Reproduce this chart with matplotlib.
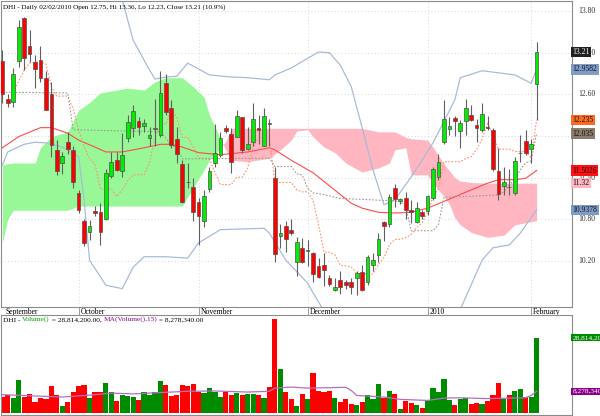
import numpy as np
import matplotlib
matplotlib.use('Agg')
import matplotlib.pyplot as plt

plt.rcParams['font.family'] = ['Liberation Serif', 'DejaVu Serif']

# --- DHI daily candles, 11 Sep 2009 .. 2 Feb 2010 ---
OPEN = [13.08, 12.53, 12.49, 13.08, 13.70, 13.29, 13.06, 13.10, 12.83, 12.61,
        11.80, 11.61, 11.92, 11.80, 11.18, 10.77, 10.61, 10.92, 10.91, 10.80,
        11.43, 11.65, 11.49, 11.97, 12.11, 12.21, 12.14, 11.97, 12.10, 12.01,
        12.76, 12.40, 11.95, 11.60, 11.34, 11.26, 11.05, 10.77, 11.23, 11.61,
        11.73, 12.11, 12.03, 11.99, 12.27, 11.81, 11.92, 12.11, 11.86, 12.19,
        11.40, 10.56, 10.71, 10.64, 10.19, 10.38, 10.34, 10.31, 10.12, 10.14,
        9.96, 9.78, 9.93, 9.90, 9.89, 9.95, 10.04, 9.90, 10.14, 10.29,
        10.76, 10.73, 11.25, 11.06, 11.11, 10.94, 10.76, 10.90, 10.92, 11.11,
        11.41, 11.92, 12.10, 12.26, 12.07, 12.22, 12.30, 12.16, 12.08, 12.13,
        12.09, 11.49, 11.28, 11.27, 11.18, 11.75, 11.93, 11.81, 12.75]
HIGH = [13.24, 12.60, 12.98, 13.67, 13.71, 13.53, 13.17, 13.29, 12.93, 12.78,
        11.94, 11.77, 12.06, 11.85, 11.22, 10.81, 10.79, 10.99, 11.03, 11.53,
        11.77, 11.77, 12.04, 12.30, 12.45, 12.28, 12.25, 12.13, 12.54, 12.93,
        12.90, 12.52, 12.13, 11.66, 11.61, 11.39, 11.10, 11.22, 11.56, 12.17,
        12.06, 12.16, 12.11, 12.38, 12.28, 12.13, 12.47, 12.30, 12.41, 12.25,
        11.56, 10.73, 10.78, 10.81, 10.54, 10.53, 10.50, 10.33, 10.24, 10.31,
        10.00, 9.95, 10.06, 9.93, 9.95, 10.06, 10.14, 10.29, 10.31, 10.60,
        10.78, 11.16, 11.31, 11.11, 11.20, 11.08, 11.05, 10.93, 11.15, 11.56,
        11.74, 12.52, 12.28, 12.29, 12.23, 12.54, 12.45, 12.25, 12.47, 12.29,
        12.11, 11.82, 11.56, 11.53, 11.70, 12.01, 12.09, 11.95, 13.36]
LOW = [12.47, 12.42, 12.42, 13.00, 12.95, 13.07, 12.69, 12.78, 12.37, 11.70,
       11.44, 11.45, 11.74, 11.25, 10.89, 10.41, 10.50, 10.84, 10.43, 10.79,
       11.39, 11.49, 11.41, 11.92, 11.99, 12.01, 12.06, 11.85, 11.85, 11.99,
       12.30, 11.82, 11.61, 11.03, 11.25, 10.77, 10.43, 10.69, 11.20, 11.56,
       11.70, 12.04, 11.47, 11.98, 11.75, 11.80, 11.85, 11.89, 11.85, 11.85,
       10.19, 10.38, 10.33, 10.57, 9.98, 10.17, 10.12, 9.89, 9.95, 9.84,
       9.84, 9.76, 9.73, 9.80, 9.73, 9.71, 9.76, 9.85, 10.06, 10.19,
       10.48, 10.69, 10.97, 11.02, 10.81, 10.74, 10.74, 10.81, 10.86, 11.08,
       11.37, 11.89, 12.01, 12.00, 11.82, 12.01, 12.21, 11.92, 12.06, 12.09,
       11.50, 11.08, 11.15, 11.15, 11.15, 11.63, 11.73, 11.61, 12.23]
CLOSE = [12.61, 12.48, 12.90, 13.57, 13.12, 13.18, 12.97, 12.83, 12.38, 11.87,
         11.50, 11.71, 11.81, 11.34, 10.94, 10.46, 10.71, 10.89, 10.62, 11.47,
         11.63, 11.51, 11.73, 12.20, 12.36, 12.13, 12.18, 12.02, 12.12, 12.62,
         12.35, 11.87, 11.74, 11.05, 11.33, 10.90, 10.85, 11.14, 11.50, 11.76,
         11.97, 12.07, 11.62, 12.29, 11.80, 11.88, 12.25, 12.08, 12.29, 12.17,
         10.30, 10.60, 10.51, 10.60, 10.47, 10.19, 10.36, 10.01, 9.97, 10.07,
         9.87, 9.83, 9.82, 9.85, 9.83, 10.03, 9.78, 10.26, 10.22, 10.51,
         10.71, 11.12, 11.09, 11.09, 10.93, 10.90, 10.96, 10.85, 11.14, 11.53,
         11.63, 12.25, 12.14, 12.22, 12.18, 12.40, 12.23, 12.11, 12.31, 12.11,
         11.52, 11.17, 11.34, 11.26, 11.64, 11.76, 11.76, 11.89, 13.21]
# volume in millions of shares
VOLUME = [6.1, 6.7, 5.8, 12.5, 6.1, 7.1, 4.2, 5.7, 5.2, 10.4,
          6.7, 2.5, 4.2, 8.0, 10.2, 10.6, 5.8, 8.0, 8.0, 11.6,
          8.0, 4.5, 6.9, 6.3, 6.1, 5.1, 7.9, 6.7, 7.9, 12.3,
          10.7, 6.3, 6.8, 10.7, 10.3, 11.1, 8.0, 7.6, 9.5, 8.0,
          6.1, 7.9, 6.7, 7.6, 6.7, 7.2, 7.2, 6.7, 5.7, 9.8,
          36.0, 16.8, 8.0, 5.5, 2.5, 7.1, 5.2, 15.2, 8.3, 8.0,
          8.3, 5.6, 4.2, 5.2, 3.3, 2.9, 4.2, 6.7, 5.2, 11.0,
          5.6, 8.5, 7.2, 1.5, 4.5, 3.9, 2.9, 1.8, 5.0, 9.4,
          7.9, 13.1, 5.0, 2.9, 5.2, 5.6, 3.5, 3.9, 3.5, 4.5,
          6.7, 11.3, 5.2, 6.7, 8.3, 9.2, 6.1, 6.1, 28.8]

# --- overlays, read as (bar index, value) vertices ---
BB_UP_I = [0, 8, 14, 19, 22, 24, 27, 28, 30, 32, 34, 38, 42, 45, 49, 50, 53,
           58, 60, 62, 64, 66, 68, 70, 72, 75, 79, 83, 84, 88, 94, 97, 98]
BB_UP = [14.45, 14.6, 14.5, 14.2, 13.96, 13.38, 12.95, 12.82, 12.85, 12.86,
         13.05, 12.88, 12.85, 12.84, 12.81, 12.88, 12.98, 13.21, 13.20, 13.02,
         12.71, 12.12, 11.51, 11.01, 11.08, 11.41, 11.90, 12.52, 12.84, 12.94,
         12.88, 12.76, 12.958]
BB_LO_I = [0, 1, 4, 6, 8, 11, 14, 15, 16, 19, 22, 24, 26, 30, 34, 36, 40, 44,
           48, 49, 52, 56, 57, 60, 66, 73, 80, 84, 88, 90, 93, 95, 98]
BB_LO = [11.58, 11.77, 11.88, 11.91, 11.90, 11.84, 11.70, 11.08, 10.21, 9.85,
         9.80, 10.11, 10.26, 10.26, 10.24, 10.46, 10.65, 10.66, 10.67, 10.60,
         10.21, 9.88, 9.74, 9.35, 9.06, 9.00, 9.20, 9.50, 10.21, 10.39, 10.43,
         10.60, 10.9378]
MA_I = [0, 3, 7, 9, 12, 14, 17, 19, 22, 24, 26, 29, 31, 33, 36, 40, 45, 49, 50,
        53, 57, 61, 64, 66, 69, 72, 75, 78, 82, 85, 89, 91, 94, 96, 98]
MA = [11.83, 11.99, 12.12, 12.12, 12.04, 11.94, 11.84, 11.77, 11.77, 11.80,
      11.83, 11.88, 11.88, 11.84, 11.76, 11.73, 11.77, 11.83, 11.80, 11.65,
      11.47, 11.22, 11.03, 10.96, 10.90, 10.89, 10.90, 10.96, 11.09, 11.19,
      11.32, 11.37, 11.37, 11.39, 11.5026]
TENKAN_I = [2, 4, 5, 7, 8, 9, 10, 12, 13, 14, 15, 16, 17, 18, 20, 21, 22, 23,
            24, 26, 27, 28, 29, 30, 31, 32, 33, 34, 35, 36, 37, 38, 39, 40, 42,
            43, 44, 45, 46, 47, 49, 50, 53, 54, 55, 56, 57, 58, 59, 60, 61, 62,
            63, 64, 65, 68, 69, 70, 71, 72, 73, 74, 75, 76, 77, 78, 79, 80, 81,
            84, 85, 86, 87, 88, 89, 90, 91, 93, 94, 96, 97, 98]
TENKAN = [12.63, 12.95, 13.05, 13.07, 13.04, 12.705, 12.575, 12.575, 12.39,
          12.09, 11.85, 11.67, 11.595, 11.235, 11.235, 11.13, 11.225, 11.355,
          11.44, 11.44, 11.62, 11.965, 12.17, 12.17, 12.375, 12.27, 11.98,
          11.98, 11.85, 11.68, 11.68, 11.665, 11.475, 11.30, 11.30, 11.405,
          11.405, 11.535, 11.835, 11.97, 11.97, 11.33, 11.33, 11.225, 11.195,
          11.195, 11.07, 10.725, 10.325, 10.325, 10.285, 10.135, 10.13, 10.115,
          10.02, 10.01, 10.155, 10.245, 10.435, 10.51, 10.51, 10.535, 10.58,
          10.685, 10.75, 10.895, 11.125, 11.24, 11.63, 11.63, 11.675, 11.70,
          11.81, 11.955, 12.18, 12.02, 11.81, 11.81, 11.775, 11.775, 11.685,
          12.235]
KIJUN_I = [0, 12, 13, 29, 30, 31, 32, 33, 49, 50, 53, 54, 55, 56, 57, 59, 62,
           65, 73, 74, 75, 79, 80, 81, 91, 92, 93, 94, 95, 96, 97, 98]
KIJUN = [12.63, 12.62, 12.09, 12.06, 11.97, 11.85, 11.85, 11.67, 11.68, 11.56,
         11.56, 11.455, 11.44, 11.25, 11.18, 11.155, 11.10, 11.09, 11.06, 10.98,
         10.635, 10.635, 10.725, 11.115, 11.15, 11.195, 11.30, 11.365, 11.51,
         11.615, 11.64, 12.035]
CLOUD_I = [0, 1, 2, 6, 7, 9, 12, 14, 16, 18, 23, 26, 28, 30, 33, 35, 37, 38, 40,
           41, 42, 45, 49, 51, 53, 54, 56, 57, 59, 61, 63, 66, 69, 71, 72, 74,
           75, 78, 79, 80, 81, 82, 83, 84, 86, 89, 92, 94, 98]
SPAN_A = [11.58, 11.60, 11.61, 11.61, 11.83, 11.99, 12.06, 12.37, 12.48, 12.62,
          12.69, 12.66, 12.78, 12.84, 12.84, 12.71, 12.56, 12.30, 11.96, 11.80,
          11.65, 11.63, 11.68, 11.80, 11.94, 12.07, 12.09, 11.99, 11.84, 11.76,
          11.61, 11.48, 11.54, 11.61, 11.80, 11.83, 11.44, 11.44, 11.33, 11.22,
          11.13, 11.02, 10.82, 10.72, 10.61, 10.54, 10.57, 10.72, 10.78]
SPAN_B = [10.46, 10.80, 10.93, 10.93, 10.93, 10.93, 10.93, 10.99, 10.99, 10.99,
          10.99, 10.99, 10.99, 10.99, 10.99, 11.25, 11.51, 11.65, 11.83, 11.92,
          12.11, 12.11, 12.11, 12.11, 12.11, 12.11, 12.11, 12.11, 12.11, 12.11,
          12.11, 12.11, 12.06, 12.06, 12.06, 11.98, 11.96, 11.94, 11.84, 11.72,
          11.60, 11.50, 11.40, 11.35, 11.33, 11.32, 11.32, 11.32, 11.32]
VMA_I = [0, 6, 11, 16, 20, 24, 29, 34, 39, 45, 49, 50, 53, 56, 63, 64, 65, 70,
         73, 78, 81, 84, 89, 96, 97, 98]
VMA = [7.0, 6.5, 6.1, 6.8, 7.6, 7.3, 7.8, 8.3, 8.4, 8.0, 8.3, 9.5, 9.9, 9.5,
       9.8, 8.6, 6.7, 6.1, 5.2, 4.8, 5.7, 5.8, 5.5, 5.8, 6.7, 8.278]

MONTH_I = [-7, 14, 36, 56, 78, 97]
MONTH_LBL = ['September', 'October', 'November', 'December', '2010', 'February']
PRICE_TICKS = [13.80, 13.20, 12.60, 12.00, 11.40, 10.80, 10.20]

UP_BODY, DOWN_BODY = '#00ee00', '#ff0000'
UP_VOL, DOWN_VOL = '#008c00', '#ff0000'
FRAME = '#8c8c8c'

W, H = 600, 416
fig = plt.figure(figsize=(W / 100, H / 100), dpi=100)
ax = fig.add_axes([1 / W, (H - 306.5) / H, 570.5 / W, 305.5 / H])
vax = fig.add_axes([1 / W, (H - 415) / H, 570.5 / W, 100 / H])

n = len(CLOSE)
idx = np.arange(n)
up = np.array(CLOSE) >= np.array(OPEN)

for a in (ax, vax):
    a.set_xlim(-0.24, 104.4)
    for s in a.spines.values():
        s.set_color(FRAME)
        s.set_linewidth(0.8)
    a.set_yticks([])
    a.set_xticks([])

ax.set_ylim(9.543, 13.945)

# grid
for p in PRICE_TICKS:
    ax.axhline(p, color='#c8c8c8', lw=0.6, ls=(0, (1, 3)), zorder=0)
for m in MONTH_I[1:]:
    ax.axvline(m, color='#c8c8c8', lw=0.6, ls=(0, (1, 3)), zorder=0)

# ichimoku cloud
ci = np.array(CLOUD_I)
sa, sb = np.array(SPAN_A), np.array(SPAN_B)
ax.fill_between(ci, sa, sb, where=sa >= sb, interpolate=True,
                color='#98f898', lw=0, zorder=1)
ax.fill_between(ci, sa, sb, where=sa < sb, interpolate=True,
                color='#ffb6c1', lw=0, zorder=1)

# bands and averages
ax.plot(BB_UP_I, BB_UP, color='#a8bcd8', lw=0.9, zorder=2)
ax.plot(BB_LO_I, BB_LO, color='#a8bcd8', lw=0.9, zorder=2)
ax.plot(MA_I, MA, color='#ff4a4a', lw=0.8, zorder=2)
ax.plot(TENKAN_I, TENKAN, color='#ff9070', lw=0.8, ls=(0, (1.5, 1.5)), zorder=2)
ax.plot(KIJUN_I, KIJUN, color='#a09a90', lw=0.8, ls=(0, (1.5, 1.5)), zorder=2)

# candles
ax.vlines(idx, LOW, HIGH, color='#606060', lw=0.8, zorder=3)
bot = np.minimum(OPEN, CLOSE)
hgt = np.maximum(np.abs(np.array(CLOSE) - np.array(OPEN)), 0.012)
ax.bar(idx, hgt, bottom=bot, width=0.68,
       color=np.where(up, UP_BODY, DOWN_BODY), edgecolor='#505050',
       linewidth=0.5, zorder=4)

# title
ax.text(2 / 570.5, 1 - 6 / 305.5,
        'DHI - Daily 02/02/2010 Open 12.75, Hi 13.36, Lo 12.23, Close 13.21 (10.9%)',
        transform=ax.transAxes, fontsize=5.1, va='center', ha='left')

# month labels under the price panel
for m, lbl in zip(MONTH_I, MONTH_LBL):
    xm = max(m, 0.2)
    if m >= 0:
        ax.plot([m, m], [0, -8 / 305.5], transform=ax.get_xaxis_transform(),
                color=FRAME, lw=0.6, clip_on=False)
    ax.text(xm + 0.35, -5 / 305.5, lbl, transform=ax.get_xaxis_transform(),
            fontsize=5.5, va='center', ha='left')

# price scale
yt = ax.get_yaxis_transform()
for p in PRICE_TICKS:
    ax.text(1 + 7 / 570.5, p, f'{p:.2f}', transform=yt, fontsize=5.5,
            va='center', ha='left', color='#303030')

marks = [(13.21, '13.21', '#202020', 'white'),
         (12.9582, '12.9582', '#7f9cc8', '#101010'),
         (12.235, '12.235', '#ff6a20', '#101010'),
         (12.035, '12.035', '#8c7c6c', '#101010'),
         (11.5026, '11.5026', '#ff1010', '#101010'),
         (11.32, '11.32', '#ffb6c1', '#101010'),
         (10.9378, '10.9378', '#7f9cc8', '#101010')]
for p, lbl, bg, fg in marks:
    ax.text(1 + 1 / 570.5, p, lbl, transform=yt, fontsize=5.5, va='center',
            ha='left', color=fg,
            bbox=dict(boxstyle='square,pad=0.15', fc=bg, ec='none'))

# volume panel
vax.set_ylim(-0.76, 37.4)
vax.bar(idx, VOLUME, width=0.95, color=np.where(up, UP_VOL, DOWN_VOL),
        linewidth=0, zorder=2)
vax.plot(VMA_I, VMA, color='#b070c0', lw=0.9, zorder=3)

vyt = vax.get_yaxis_transform()
for v, lbl, bg in [(28.8142, '28,814,200', '#008c00'),
                   (8.27834, '8,278,340', '#8c008c')]:
    vax.text(1 + 1 / 570.5, v, lbl, transform=vyt, fontsize=5.3, va='center',
             ha='left', color='white',
             bbox=dict(boxstyle='square,pad=0.15', fc=bg, ec='none'))

parts = [('DHI - ', '#000000'), ('Volume()', '#00a000'),
         (' = 28,814,200.00, ', '#000000'), ('MA(Volume(),15)', '#8c008c'),
         (' = 8,278,340.00', '#000000')]
t = vax.text(2 / 570.5, 1 - 5 / 100, parts[0][0], transform=vax.transAxes,
             fontsize=5.3, va='center', ha='left', color=parts[0][1])
for s, c in parts[1:]:
    t = vax.annotate(s, xy=(1, 0), xycoords=t, va='bottom', ha='left',
                     fontsize=5.3, color=c)

fig.savefig('out.png', dpi=100, facecolor='white')
